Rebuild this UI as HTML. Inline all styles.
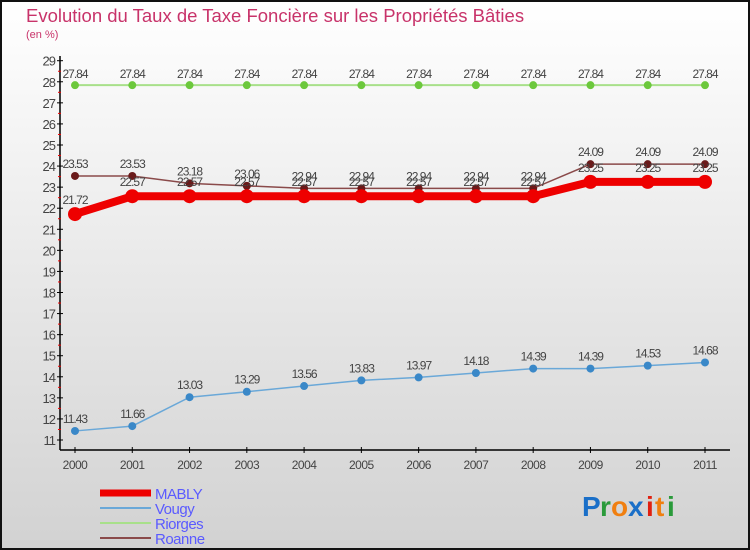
<!DOCTYPE html>
<html><head><meta charset="utf-8"><style>
html,body{margin:0;padding:0}
#wrap{position:relative;width:750px;height:550px;box-sizing:border-box;border:2px solid #111;background:linear-gradient(#ffffff,#d2d2d2);overflow:hidden;font-family:"Liberation Sans",sans-serif}
</style></head><body>
<div id="wrap">
<svg id="chart" width="750" height="550" style="position:absolute;left:-2px;top:-2px">
<text x="26" y="22" font-size="18.5" fill="#c8336a">Evolution du Taux de Taxe Foncière sur les Propriétés Bâties</text>
<text x="26" y="38" font-size="11" fill="#c8336a">(en %)</text>
<g id="axes"></g><g id="series"></g><g id="legend"></g>
<g font-size="28" font-weight="bold" font-family="Liberation Sans,sans-serif">
<text x="582" y="516" fill="#1a6fc8">P</text><text x="600" y="516" fill="#2a9a3a">r</text><text x="611" y="516" fill="#f07f10">o</text><text x="628" y="516" fill="#1a6fc8">x</text><text x="646" y="516" fill="#e02010">i</text><text x="655" y="516" fill="#f07f10">t</text><text x="667" y="516" fill="#2a9a3a">i</text>
</g>
</svg>
</div>
<script>
const years=[2000,2001,2002,2003,2004,2005,2006,2007,2008,2009,2010,2011];
const yTicks=[11,12,13,14,15,16,17,18,19,20,21,22,23,24,25,26,27,28,29];
const mably=[21.72,22.57,22.57,22.57,22.57,22.57,22.57,22.57,22.57,23.25,23.25,23.25];
const vougy=[11.43,11.66,13.03,13.29,13.56,13.83,13.97,14.18,14.39,14.39,14.53,14.68];
const riorges=[27.84,27.84,27.84,27.84,27.84,27.84,27.84,27.84,27.84,27.84,27.84,27.84];
const roanne=[23.53,23.53,23.18,23.06,22.94,22.94,22.94,22.94,22.94,24.09,24.09,24.09];
const NS="http://www.w3.org/2000/svg";
function xS(i){return 75+i*(705-75)/(years.length-1);}
function yS(v){return 440-(v-11)*(440-60.7)/18;}
function mk(t,a,p){const e=document.createElementNS(NS,t);for(const k in a)e.setAttribute(k,a[k]);p.appendChild(e);return e;}
const axes=document.getElementById('axes');
let ya=mk('line',{x1:60,y1:56,x2:60,y2:450,stroke:'#000','stroke-width':1.5},axes);

let xa=mk('line',{x1:60,y1:450,x2:730,y2:450,stroke:'#000','stroke-width':1.5},axes);

yTicks.forEach(v=>{const y=yS(v);
 mk('line',{x1:57,y1:y,x2:63,y2:y,stroke:'#000'},axes);
 if(v<29)mk('line',{x1:58,y1:yS(v+0.5),x2:61,y2:yS(v+0.5),stroke:'#e00'},axes);
 const t=mk('text',{x:55,y:y+5,'text-anchor':'end','font-size':13,fill:'#444','letter-spacing':'-1'},axes);t.textContent=v;
 });
years.forEach((yr,i)=>{const x=xS(i);
 mk('line',{x1:x,y1:447,x2:x,y2:453,stroke:'#000'},axes);
 const t=mk('text',{x:x,y:469,'text-anchor':'middle','font-size':12,fill:'#444','letter-spacing':'-0.5'},axes);t.textContent=yr;
 });
const S=document.getElementById('series');
function draw(name,vals,color,w,r,fill,labelDy){
 const g=mk('g',{},S);
 mk('polyline',{points:vals.map((v,i)=>xS(i)+','+yS(v)).join(' '),fill:'none',stroke:color,'stroke-width':w},g);
 vals.forEach((v,i)=>{const c=mk('circle',{cx:xS(i),cy:yS(v),r:r,fill:fill},g);
  
  const t=mk('text',{x:xS(i),y:yS(v)+labelDy,'text-anchor':'middle','font-size':12,fill:'#444','letter-spacing':'-1'},g);
  t.textContent=v.toFixed(2);});
}
draw('riorges',riorges,'#a8e08a',2,4,'#6cc83c',-7);
draw('vougy',vougy,'#6aa8d8',1.5,4,'#3a88c8',-8);
draw('roanne',roanne,'#8a4a4a',1.5,4,'#6a1a1a',-8);
draw('mably',mably,'#ee0000',8,7,'#ee0000',-10);
const L=document.getElementById('legend');
[['MABLY','#ee0000',7],['Vougy','#6aa8d8',2],['Riorges','#a8e08a',2],['Roanne','#8a4a4a',2]].forEach((d,i)=>{
 const y=493+i*15;const g=mk('g',{},L);
 
 mk('line',{x1:100,y1:y,x2:151,y2:y,stroke:d[1],'stroke-width':d[2]},g);
 const t=mk('text',{x:155,y:y+6,'font-size':15,fill:'#5a5aff','letter-spacing':'-0.5'},g);t.textContent=d[0];});
</script>
</body></html>
